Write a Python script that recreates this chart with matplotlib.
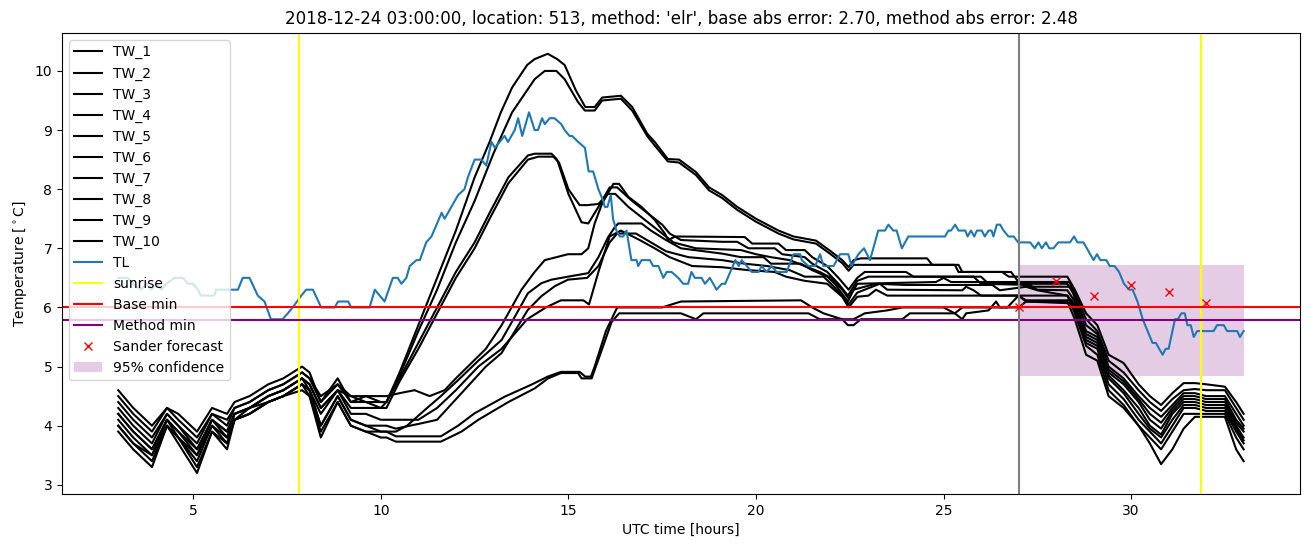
import matplotlib.pyplot as plt

# ---- TL (air temperature) ----
tl_hours = [3.0, 3.26, 3.39, 3.61, 3.75, 3.88, 4.01, 4.15, 4.28, 4.5, 4.73, 4.86, 4.99, 5.13, 5.2, 5.56, 5.61,
            6.19, 6.32, 6.5, 6.72, 6.9, 7.07, 7.38, 7.52, 7.65, 7.88, 8.01, 8.19, 8.41, 8.77, 8.86, 9.13, 9.21,
            9.7, 9.84, 9.97, 10.1, 10.32, 10.45, 10.55, 10.68, 10.77, 10.95, 11.04, 11.21, 11.35, 11.62, 11.7,
            12.06, 12.23, 12.32, 12.5, 12.68, 12.81, 12.95, 13.04, 13.3, 13.39, 13.57, 13.66, 13.77, 13.95,
            14.1, 14.19, 14.3, 14.37, 14.5, 14.63, 14.81, 14.9, 15.03, 15.1, 15.26, 15.44, 15.54, 15.66, 15.8,
            15.93, 15.97, 16.04, 16.13, 16.19, 16.28, 16.37, 16.46, 16.55, 16.68, 16.82, 16.86, 16.95, 17.17,
            17.26, 17.4, 17.53, 17.62, 17.75, 17.93, 18.06, 18.19, 18.28, 18.37, 18.55, 18.64, 18.77, 18.95,
            19.09, 19.18, 19.45, 19.54, 19.62, 19.89, 20.07, 20.15, 20.28, 20.42, 20.55, 20.82, 21.0, 21.18,
            21.22, 21.4, 21.58, 21.71, 21.8, 22.07, 22.24, 22.46, 22.55, 22.73, 22.88, 23.04, 23.26, 23.44,
            23.53, 23.66, 23.75, 23.89, 24.06, 25.04, 25.13, 25.2, 25.31, 25.4, 25.58, 25.64, 25.73, 25.82,
            25.89, 26.02, 26.1, 26.2, 26.28, 26.33, 26.42, 26.51, 26.6, 26.73, 26.87, 26.99, 27.31, 27.43,
            27.53, 27.62, 27.73, 27.82, 27.93, 28.06, 28.37, 28.48, 28.57, 28.73, 28.91, 29.0, 29.09, 29.18,
            29.34, 29.43, 29.56, 29.68, 29.81, 29.95, 30.04, 30.17, 30.31, 30.44, 30.57, 30.66, 30.84, 30.92,
            31.0, 31.17, 31.25, 31.34, 31.43, 31.5, 31.59, 31.67, 31.76, 32.2, 32.29, 32.47, 32.56, 32.83,
            32.9, 33.0]
tl_vals = [6.5, 6.5, 6.4, 6.3, 6.4, 6.3, 6.4, 6.3, 6.4, 6.5, 6.5, 6.4, 6.4, 6.3, 6.2, 6.2, 6.3,
           6.3, 6.5, 6.5, 6.2, 6.1, 5.8, 5.8, 5.9, 6.0, 6.2, 6.3, 6.3, 6.0, 6.0, 6.1, 6.1, 6.0,
           6.0, 6.3, 6.2, 6.1, 6.5, 6.5, 6.4, 6.5, 6.7, 6.8, 6.8, 7.1, 7.2, 7.6, 7.5,
           7.9, 8.0, 8.2, 8.5, 8.5, 8.4, 8.8, 8.7, 8.9, 8.8, 9.0, 9.2, 8.9, 9.3,
           9.0, 9.0, 9.2, 9.1, 9.2, 9.2, 9.1, 9.0, 8.9, 8.9, 8.8, 8.7, 8.3, 8.3, 8.0,
           7.8, 7.7, 7.7, 7.9, 7.5, 7.3, 7.2, 7.2, 7.3, 6.8, 6.8, 6.7, 6.8, 6.8,
           6.7, 6.7, 6.5, 6.6, 6.6, 6.5, 6.4, 6.4, 6.6, 6.5, 6.5, 6.4, 6.5, 6.3,
           6.4, 6.4, 6.8, 6.7, 6.8, 6.6, 6.6, 6.7, 6.6, 6.7, 6.6, 6.6, 6.9, 6.9,
           6.8, 6.7, 6.7, 6.9, 6.7, 6.7, 6.9, 6.9, 6.7, 6.9, 7.0, 6.8, 7.3, 7.3,
           7.4, 7.3, 7.3, 7.0, 7.2, 7.2, 7.3, 7.3, 7.4, 7.3, 7.3, 7.2, 7.3, 7.2,
           7.3, 7.3, 7.2, 7.3, 7.3, 7.2, 7.4, 7.4, 7.3, 7.2, 7.2, 7.1, 7.1, 7.0,
           7.1, 7.0, 7.1, 7.0, 7.0, 7.1, 7.1, 7.2, 7.1, 7.1, 6.9, 6.8, 6.9, 6.8,
           6.8, 6.7, 6.7, 6.6, 6.4, 6.3, 6.3, 6.1, 5.8, 5.6, 5.4, 5.4, 5.2, 5.3,
           5.3, 5.8, 5.8, 5.9, 5.9, 5.7, 5.7, 5.5, 5.6, 5.6, 5.7, 5.7, 5.6, 5.6,
           5.5, 5.6]

# ---- TW (road temperature) members, shared hour grids for start and end ----
early_hours = [3.0, 3.4, 3.9, 4.3, 4.6, 5.1, 5.5, 5.9, 6.1, 6.5, 7.0, 7.4, 7.9, 8.1, 8.4, 8.85, 9.2, 9.6, 10.0, 10.15]
tail_hours = [28.5, 28.8, 29.1, 29.4, 29.8, 30.2, 30.5, 30.8, 31.1, 31.4, 31.7, 32.0, 32.5, 32.8, 33.0]

tw1_early = [4.6, 4.3, 4.0, 4.3, 4.2, 3.9, 4.3, 4.2, 4.4, 4.5, 4.7, 4.8, 5.0, 4.9, 4.4, 4.8, 4.4, 4.5, 4.4, 4.4]
tw1_mid_h = [10.5, 11.0, 11.5, 12.0, 12.5, 12.9, 13.2, 13.5, 13.9, 14.1, 14.45, 14.7, 14.9, 15.2, 15.45, 15.7,
             15.9, 16.4, 16.7, 17.1, 17.3, 17.65, 17.95, 18.4, 18.75, 19.1, 19.5, 20.0, 20.6, 21.0, 21.6,
             21.95, 22.3, 22.47, 22.6, 22.8, 24.56, 24.7, 25.3, 25.4, 26.56, 26.74, 28.3]
tw1_mid_v = [4.9, 5.7, 6.5, 7.3, 8.2, 8.8, 9.3, 9.72, 10.1, 10.2, 10.29, 10.2, 10.1, 9.67, 9.39, 9.39,
             9.55, 9.58, 9.39, 8.94, 8.8, 8.51, 8.5, 8.29, 8.03, 7.9, 7.7, 7.5, 7.3, 7.2, 7.13,
             6.97, 6.8, 6.68, 6.8, 6.83, 6.83, 6.72, 6.72, 6.6, 6.6, 6.52, 6.52]
tw1_tail = [6.3, 5.9, 5.7, 5.2, 5.06, 4.7, 4.5, 4.35, 4.55, 4.72, 4.72, 4.7, 4.66, 4.4, 4.2]

tw2_early = [4.5, 4.2, 3.9, 4.3, 4.1, 3.8, 4.2, 4.1, 4.3, 4.4, 4.6, 4.7, 4.9, 4.8, 4.5, 4.7, 4.5, 4.4, 4.4, 4.4]
tw2_mid_h = [10.5, 11.0, 11.5, 12.0, 12.5, 13.0, 13.5, 14.1, 14.37, 14.68, 14.9, 15.26, 15.44, 15.7, 15.9,
             16.4, 16.7, 17.1, 17.3, 17.65, 17.95, 18.4, 18.75, 19.1, 19.5, 20.0, 20.6, 21.0, 21.6, 21.95,
             22.3, 22.47, 22.6, 22.8, 25.4, 25.5, 26.8, 27.0, 28.35]
tw2_mid_v = [4.85, 5.6, 6.3, 7.1, 7.8, 8.6, 9.3, 9.86, 10.0, 10.0, 9.86, 9.47, 9.33, 9.33, 9.5,
             9.53, 9.33, 8.9, 8.74, 8.47, 8.45, 8.24, 7.98, 7.85, 7.65, 7.45, 7.25, 7.15, 7.08, 6.92,
             6.75, 6.62, 6.72, 6.72, 6.72, 6.6, 6.6, 6.43, 6.43]
tw2_tail = [6.25, 5.8, 5.6, 5.1, 4.9, 4.6, 4.4, 4.25, 4.45, 4.6, 4.62, 4.6, 4.6, 4.3, 4.1]

tw3_early = [4.4, 4.1, 3.8, 4.2, 4.0, 3.7, 4.2, 4.0, 4.3, 4.4, 4.6, 4.7, 4.9, 4.8, 4.4, 4.7, 4.4, 4.4, 4.3, 4.4]
tw3_mid_h = [10.5, 11.0, 11.5, 12.0, 12.5, 12.9, 13.4, 13.92, 14.1, 14.55, 14.7, 15.0, 15.35, 15.53, 15.8,
             16.1, 16.3, 16.7, 17.1, 17.5, 17.7, 18.0, 19.1, 19.5, 19.8, 20.5, 20.7, 21.3, 21.5, 21.9,
             22.2, 22.45, 22.7, 23.0, 26.0, 26.2, 28.3]
tw3_mid_v = [4.8, 5.4, 6.0, 6.6, 7.1, 7.6, 8.2, 8.57, 8.6, 8.6, 8.5, 7.92, 7.44, 7.42, 7.7,
             8.03, 8.03, 7.8, 7.6, 7.4, 7.25, 7.14, 7.11, 7.11, 7.0, 7.0, 6.9, 6.85, 6.74, 6.6,
             6.4, 6.2, 6.45, 6.52, 6.52, 6.4, 6.4]
tw3_tail = [6.2, 5.7, 5.55, 5.0, 4.8, 4.5, 4.3, 4.15, 4.35, 4.55, 4.55, 4.5, 4.5, 4.2, 4.0]

tw4_early = [4.3, 4.0, 3.7, 4.2, 4.0, 3.6, 4.1, 3.9, 4.2, 4.3, 4.5, 4.6, 4.8, 4.7, 4.3, 4.6, 4.3, 4.3, 4.3, 4.3]
tw4_mid_h = [10.5, 11.0, 11.5, 12.0, 12.5, 12.9, 13.4, 13.92, 14.2, 14.6, 14.75, 15.0, 15.3, 15.5, 15.8,
             16.05, 16.25, 16.6, 17.0, 17.4, 17.8, 18.4, 19.6, 20.0, 20.4, 20.9, 21.3, 21.7, 22.0, 22.3,
             22.47, 22.7, 24.8, 25.0, 25.2, 27.0, 27.2, 28.4]
tw4_mid_v = [4.75, 5.3, 5.9, 6.5, 7.0, 7.5, 8.1, 8.5, 8.55, 8.55, 8.45, 8.0, 7.73, 7.73, 7.75,
             7.92, 7.92, 7.7, 7.5, 7.3, 7.1, 7.0, 6.97, 6.9, 6.85, 6.8, 6.7, 6.6, 6.5, 6.3,
             6.15, 6.4, 6.43, 6.5, 6.43, 6.43, 6.35, 6.35]
tw4_tail = [6.15, 5.6, 5.5, 4.95, 4.75, 4.45, 4.2, 4.05, 4.3, 4.5, 4.5, 4.45, 4.45, 4.1, 3.95]

tw5_early = [4.2, 3.9, 3.6, 4.1, 3.9, 3.5, 4.1, 3.9, 4.2, 4.3, 4.5, 4.6, 4.8, 4.7, 4.3, 4.6, 4.5, 4.5, 4.5, 4.5]
tw5_mid_h = [10.5, 10.9, 11.3, 11.7, 12.0, 12.4, 12.8, 13.22, 13.75, 14.1, 14.37, 14.99, 15.35, 15.53, 15.7,
             15.9, 16.1, 16.2, 16.35, 16.6, 16.95, 17.3, 17.57, 17.66, 17.85, 19.7, 19.9, 20.6, 20.8, 21.3,
             21.5, 21.9, 22.2, 22.47, 22.7, 22.9, 24.0, 24.2, 25.8, 26.0, 27.3, 27.5, 28.3]
tw5_mid_v = [4.55, 4.6, 4.5, 4.6, 4.8, 5.05, 5.3, 5.7, 6.3, 6.6, 6.8, 6.9, 6.9, 7.0, 7.42,
             7.76, 7.98, 8.09, 8.09, 7.87, 7.7, 7.48, 7.25, 7.14, 7.2, 7.19, 7.08, 7.08, 6.97, 6.97,
             6.85, 6.7, 6.5, 6.3, 6.5, 6.6, 6.6, 6.52, 6.52, 6.4, 6.38, 6.3, 6.29]
tw5_tail = [6.1, 5.55, 5.45, 4.9, 4.7, 4.4, 4.1, 3.95, 4.25, 4.45, 4.45, 4.4, 4.4, 4.05, 3.9]

tw6_early = [4.1, 3.8, 3.5, 4.1, 3.8, 3.5, 4.0, 3.8, 4.1, 4.3, 4.4, 4.5, 4.7, 4.6, 4.0, 4.5, 4.1, 4.0, 3.9, 3.9]
tw6_mid_h = [10.4, 10.7, 11.27, 11.6, 12.06, 12.6, 13.22, 13.57, 13.92, 14.28, 14.55, 14.99, 15.53, 15.8,
             16.06, 16.24, 16.33, 16.95, 17.2, 17.6, 18.0, 19.1, 19.6, 20.2, 20.4, 21.2, 21.5, 21.9, 22.1,
             22.45, 22.6, 22.9, 23.2, 24.0, 26.3, 26.5, 27.2, 27.5, 28.3]
tw6_mid_v = [3.9, 4.0, 4.32, 4.5, 4.77, 5.1, 5.45, 5.84, 6.24, 6.41, 6.47, 6.52, 6.58, 6.85,
             7.19, 7.36, 7.42, 7.42, 7.3, 7.14, 7.0, 6.91, 6.85, 6.85, 6.74, 6.74, 6.63, 6.52, 6.4,
             6.1, 6.3, 6.35, 6.4, 6.38, 6.38, 6.29, 6.35, 6.29, 6.2]
tw6_tail = [6.05, 5.5, 5.4, 4.85, 4.6, 4.3, 4.0, 3.85, 4.2, 4.4, 4.4, 4.35, 4.35, 4.0, 3.8]

tw7_early = [4.0, 3.7, 3.5, 4.0, 3.8, 3.4, 4.0, 3.7, 4.1, 4.2, 4.4, 4.5, 4.7, 4.6, 4.0, 4.5, 4.1, 4.0, 4.0, 4.0]
tw7_mid_h = [10.4, 11.08, 11.5, 12.15, 12.8, 13.22, 13.92, 14.28, 14.64, 14.99, 15.5, 15.8, 16.1, 16.3,
             16.8, 17.2, 17.6, 18.2, 19.1, 19.7, 20.3, 20.9, 21.3, 21.8, 22.0, 22.3, 22.47, 22.7, 22.9,
             23.3, 23.5, 25.5, 25.6, 25.8, 26.0, 27.0, 27.2, 28.4]
tw7_mid_v = [3.95, 4.04, 4.1, 4.55, 5.0, 5.23, 5.96, 6.19, 6.36, 6.47, 6.5, 6.7, 7.1, 7.25,
             7.25, 7.1, 6.95, 6.85, 6.8, 6.74, 6.7, 6.63, 6.52, 6.52, 6.4, 6.2, 6.05, 6.25, 6.3,
             6.4, 6.3, 6.29, 6.35, 6.29, 6.2, 6.2, 6.12, 6.12]
tw7_tail = [6.0, 5.45, 5.35, 4.8, 4.55, 4.2, 3.95, 3.8, 4.1, 4.35, 4.35, 4.3, 4.3, 3.95, 3.75]

tw8_early = [4.2, 3.9, 3.6, 4.1, 3.9, 3.6, 4.1, 3.8, 4.2, 4.3, 4.5, 4.6, 4.8, 4.6, 4.2, 4.6, 4.2, 4.2, 4.1, 4.1]
tw8_mid_h = [10.4, 11.0, 11.5, 12.0, 12.6, 13.22, 13.9, 14.4, 14.8, 15.4, 15.55, 15.8, 16.1, 16.4, 16.9,
             17.3, 17.7, 18.3, 19.1, 19.8, 20.5, 20.8, 21.3, 21.9, 22.1, 22.3, 22.47, 22.7, 23.0, 23.2,
             23.5, 27.0, 27.2, 28.4]
tw8_mid_v = [4.1, 4.1, 4.3, 4.6, 5.0, 5.3, 5.8, 6.0, 6.12, 6.12, 6.05, 6.6, 7.2, 7.3, 7.14,
             7.0, 6.85, 6.7, 6.68, 6.63, 6.6, 6.52, 6.45, 6.4, 6.29, 6.18, 6.0, 6.18, 6.2, 6.3,
             6.2, 6.2, 6.1, 6.07]
tw8_tail = [5.95, 5.4, 5.3, 4.7, 4.45, 4.1, 3.9, 3.7, 4.0, 4.3, 4.3, 4.25, 4.25, 3.9, 3.7]

tw9_early = [4.0, 3.7, 3.4, 4.0, 3.8, 3.3, 3.9, 3.7, 4.1, 4.2, 4.4, 4.5, 4.7, 4.5, 3.9, 4.4, 4.0, 3.9, 3.9, 3.9]
tw9_mid_h = [10.4, 11.6, 12.06, 12.5, 13.3, 14.0, 14.45, 14.8, 15.3, 15.45, 15.6, 15.7, 16.0, 16.3, 17.5,
             18.0, 21.2, 21.5, 21.8, 22.3, 22.6, 22.9, 23.5, 23.9, 25.0, 25.3, 25.5, 26.7, 27.0, 28.3]
tw9_mid_v = [3.82, 3.82, 4.0, 4.21, 4.49, 4.69, 4.83, 4.91, 4.91, 4.83, 4.83, 5.0, 5.6, 6.0, 6.0,
             6.1, 6.12, 6.0, 5.9, 5.8, 5.8, 5.9, 5.95, 6.0, 6.0, 5.9, 6.0, 6.0, 6.2, 6.2]
tw9_tail = [5.9, 5.35, 5.2, 4.6, 4.35, 4.0, 3.8, 3.6, 3.9, 4.2, 4.2, 4.2, 4.2, 3.8, 3.6]

tw10_early = [3.9, 3.6, 3.3, 4.0, 3.7, 3.2, 3.9, 3.6, 4.1, 4.2, 4.4, 4.5, 4.6, 4.5, 3.8, 4.4, 4.0, 3.9, 3.8, 3.8]
tw10_mid_h = [10.4, 11.6, 12.15, 12.6, 13.4, 14.1, 14.46, 14.8, 15.26, 15.35, 15.62, 15.9, 16.15, 16.35,
              18.0, 18.4, 18.6, 21.4, 21.7, 22.3, 22.45, 22.6, 22.8, 23.9, 24.1, 25.3, 25.5, 25.6, 26.2,
              26.4, 26.5, 27.0, 27.2, 28.3]
tw10_mid_v = [3.73, 3.73, 3.9, 4.1, 4.4, 4.63, 4.8, 4.89, 4.89, 4.8, 4.8, 5.3, 5.75, 5.9,
              5.9, 5.8, 5.9, 5.9, 5.8, 5.8, 5.7, 5.7, 5.8, 5.8, 5.9, 5.9, 5.8, 5.9, 5.95,
              6.1, 6.0, 6.0, 6.1, 6.1]
tw10_tail = [5.8, 5.2, 5.1, 4.5, 4.3, 4.0, 3.7, 3.35, 3.6, 3.95, 4.15, 4.15, 4.15, 3.6, 3.4]

# ---- other markers ----
sunrise_hours = [7.83, 31.86]
base_min = 6.0
method_min = 5.78
forecast_time = 27.0
sander_hours = [27, 28, 29, 30, 31, 32]
sander_vals = [6.0, 6.44, 6.2, 6.38, 6.26, 6.07]
conf_hours = [27, 33]
conf_low = 4.84
conf_high = 6.72

members = [
    (tw1_early, tw1_mid_h, tw1_mid_v, tw1_tail),
    (tw2_early, tw2_mid_h, tw2_mid_v, tw2_tail),
    (tw3_early, tw3_mid_h, tw3_mid_v, tw3_tail),
    (tw4_early, tw4_mid_h, tw4_mid_v, tw4_tail),
    (tw5_early, tw5_mid_h, tw5_mid_v, tw5_tail),
    (tw6_early, tw6_mid_h, tw6_mid_v, tw6_tail),
    (tw7_early, tw7_mid_h, tw7_mid_v, tw7_tail),
    (tw8_early, tw8_mid_h, tw8_mid_v, tw8_tail),
    (tw9_early, tw9_mid_h, tw9_mid_v, tw9_tail),
    (tw10_early, tw10_mid_h, tw10_mid_v, tw10_tail),
]

fig = plt.figure(figsize=(13.1, 5.47), dpi=100)
ax = fig.add_axes([0.0473, 0.097, 0.945, 0.843])

for i, (e, mh, mv, t) in enumerate(members):
    ax.plot(early_hours + mh + tail_hours, e + mv + t, color='black', label=f'TW_{i + 1}')
ax.plot(tl_hours, tl_vals, color='C0', label='TL')

for j, h in enumerate(sunrise_hours):
    ax.axvline(h, color='yellow', label='sunrise' if j == 0 else None)
ax.axhline(base_min, color='red', label='Base min')
ax.axhline(method_min, color='purple', label='Method min')
ax.axvline(forecast_time, color='grey')
ax.plot(sander_hours, sander_vals, 'rx', label='Sander forecast')
ax.fill_between(conf_hours, conf_low, conf_high, color='purple', alpha=0.2, linewidth=0,
                label='95% confidence')

ax.set_xlabel('UTC time [hours]')
ax.set_ylabel(r'Temperature [$^\circ$C]')
ax.set_title("2018-12-24 03:00:00, location: 513, method: 'elr', base abs error: 2.70, method abs error: 2.48")
ax.legend(loc='upper left')

fig.savefig('out.png', dpi=100)
